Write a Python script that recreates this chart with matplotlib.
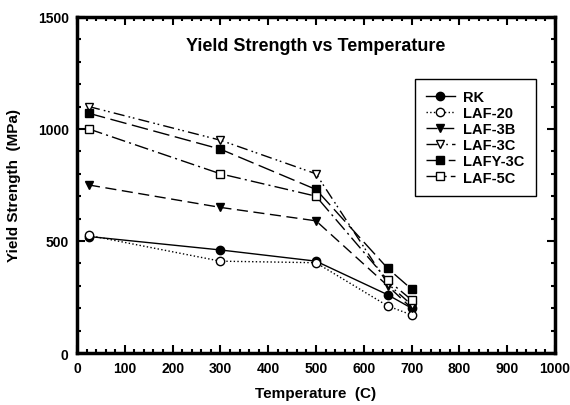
import matplotlib
matplotlib.use("Agg")
import matplotlib.pyplot as plt
from matplotlib.ticker import MultipleLocator

plt.rcParams['font.family'] = ['Liberation Sans', 'DejaVu Sans']
plt.rcParams['font.weight'] = 'bold'

# data
temps = [25, 300, 500, 650, 700]
rk = [520, 460, 410, 260, 200]
laf20 = [525, 410, 403, 210, 170]
laf3b = [750, 650, 590, 300, 200]
laf3c = [1100, 950, 800, 310, 215]
lafy3c = [1070, 910, 730, 378, 285]
laf5c = [1000, 800, 700, 325, 237]

series = [
    ("RK", rk, "o", "k", "-"),
    ("LAF-20", laf20, "o", "white", ":"),
    ("LAF-3B", laf3b, "v", "k", (0, (8, 4))),
    ("LAF-3C", laf3c, "v", "white", (0, (8, 3, 1.2, 2, 1.2, 3))),
    ("LAFY-3C", lafy3c, "s", "k", (0, (12, 4))),
    ("LAF-5C", laf5c, "s", "white", (0, (10, 3, 1.5, 3))),
]

fig = plt.figure(figsize=(5.7, 4.06), dpi=100)
ax = fig.add_axes([77/570, 1 - 354/406, (555-77)/570, (354-18)/406])

for name, vals, mk, fc, ls in series:
    ax.plot(temps, vals, color='k', linestyle=ls, linewidth=1.0,
            marker=mk, markersize=6, markerfacecolor=fc,
            markeredgecolor='k', markeredgewidth=1.0, label=name)

ax.set_xlim(0, 1000)
ax.set_ylim(0, 1500)
ax.xaxis.set_major_locator(MultipleLocator(100))
ax.xaxis.set_minor_locator(MultipleLocator(20))
ax.yaxis.set_major_locator(MultipleLocator(500))
ax.yaxis.set_minor_locator(MultipleLocator(100))
ax.tick_params(which='both', direction='in', top=True, right=True, width=1.5)
ax.tick_params(which='major', length=6, labelsize=10, pad=6)
ax.tick_params(which='minor', length=3)
for s in ax.spines.values():
    s.set_linewidth(2.5)

ax.set_xlabel("Temperature  (C)", fontsize=11, fontweight='bold', labelpad=8)
ax.set_ylabel("Yield Strength  (MPa)", fontsize=11, fontweight='bold', labelpad=12)
ax.text(0.5, 0.915, "Yield Strength vs Temperature", transform=ax.transAxes,
        ha='center', va='center', fontsize=13, fontweight='bold')

leg = ax.legend(loc='upper right', bbox_to_anchor=(0.975, 0.838), fontsize=10.5,
                fancybox=False, edgecolor='k', framealpha=1, handlelength=2.0,
                handletextpad=0.6, labelspacing=0.15, borderpad=0.75)
leg.get_frame().set_linewidth(1.0)

fig.savefig("out.png", dpi=100)
